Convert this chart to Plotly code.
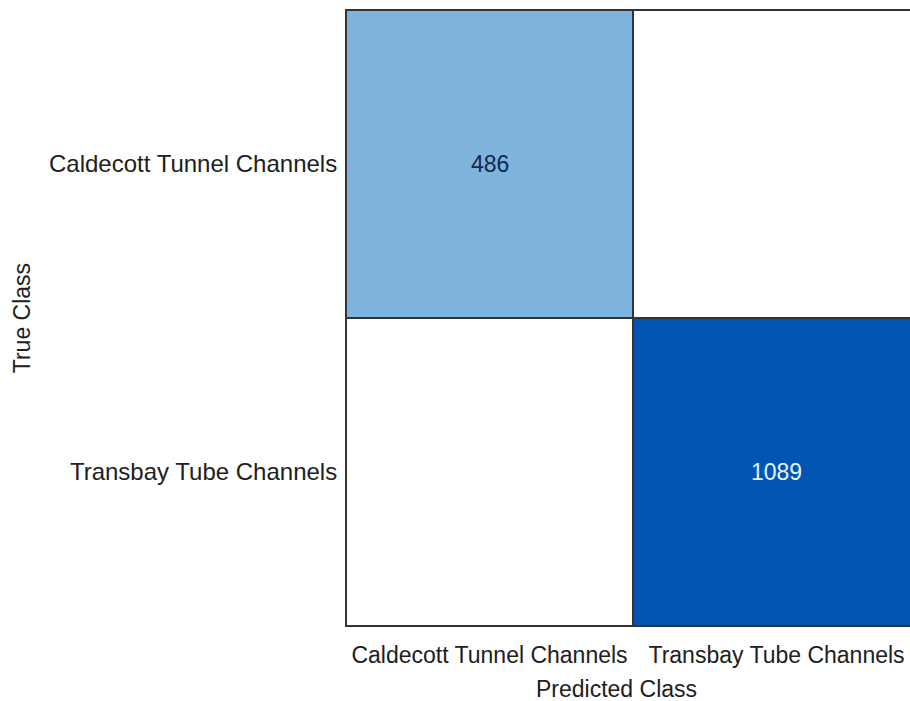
import plotly.graph_objects as go

# Data
predicted_classes = ["Caldecott Tunnel Channels", "Transbay Tube Channels"]
true_classes = ["Caldecott Tunnel Channels", "Transbay Tube Channels"]
counts = [
    [486, 0],
    [0, 1089],
]
x_title = "Predicted Class"
y_title = "True Class"

FONT = "Liberation Sans, Arial, Helvetica, sans-serif"
TEXT_COLOR = "#202020"

fig = go.Figure()
fig.add_trace(go.Heatmap(
    z=counts,
    x=predicted_classes,
    y=true_classes,
    colorscale=[[0, "#ffffff"], [0.45, "#7eb3de"], [1, "#0055b3"]],
    zmin=0,
    zmax=max(max(r) for r in counts),
    showscale=False,
    xgap=2,
    ygap=2,
    hoverinfo="skip",
))

zmax = max(max(r) for r in counts)
annotations = []
for i, tc in enumerate(true_classes):
    for j, pc in enumerate(predicted_classes):
        v = counts[i][j]
        if v == 0:
            continue
        color = "#e6f3ff" if v / zmax > 0.6 else "#14294a"
        annotations.append(dict(
            x=pc, y=tc, xref="x", yref="y", text=str(v), showarrow=False,
            font=dict(family=FONT, size=23, color=color),
        ))

annotations.append(dict(
    x=0.479, y=-0.102, xref="paper", yref="paper", text=x_title,
    showarrow=False, font=dict(family=FONT, size=23, color=TEXT_COLOR),
    xanchor="center", yanchor="middle",
))
annotations.append(dict(
    x=-0.574, y=0.5, xref="paper", yref="paper", text=y_title, textangle=-90,
    showarrow=False, font=dict(family=FONT, size=23, color=TEXT_COLOR),
    xanchor="center", yanchor="middle",
))

fig.update_layout(
    width=910,
    height=701,
    margin=dict(l=346, r=0, t=10, b=75),
    paper_bgcolor="white",
    plot_bgcolor="#333333",
    annotations=annotations,
    font=dict(family=FONT, size=23, color=TEXT_COLOR),
)
fig.update_xaxes(
    type="category",
    range=[-0.5, 1.465],
    showgrid=False,
    zeroline=False,
    ticks="",
    showline=True,
    linecolor="#333333",
    linewidth=1,
    mirror=True,
    ticklabelstandoff=8,
    tickfont=dict(family=FONT, size=23, color=TEXT_COLOR),
)
fig.update_yaxes(
    type="category",
    range=[1.5, -0.5],
    showgrid=False,
    zeroline=False,
    ticks="",
    showline=True,
    linecolor="#333333",
    linewidth=1,
    ticklabelstandoff=3,
    tickfont=dict(family=FONT, size=24, color=TEXT_COLOR),
)

fig.write_html(
    "out.html",
    config={"displayModeBar": False},
    post_script="document.body.style.margin='0';document.body.style.overflow='hidden';",
)
